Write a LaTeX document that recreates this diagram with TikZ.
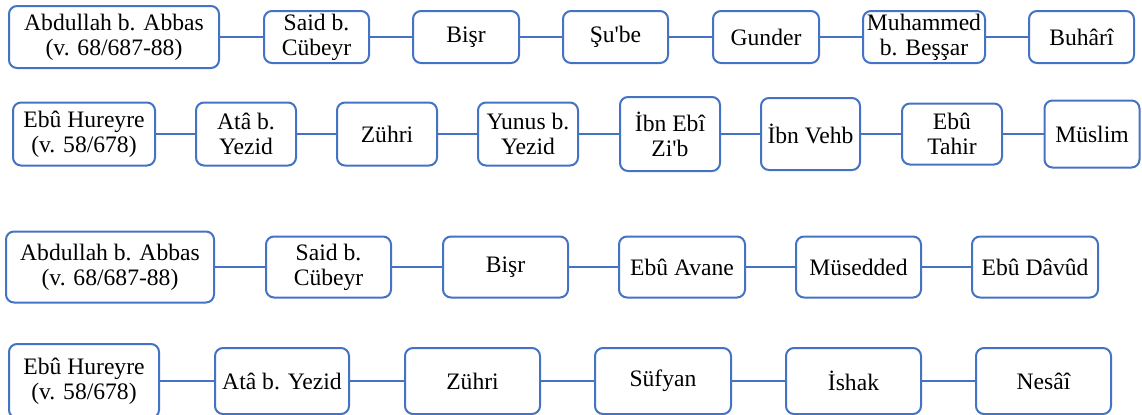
\documentclass[tikz,border=0pt]{standalone}
\usepackage{fontspec}
\setmainfont{Liberation Serif}
\usepackage{xcolor}
\usepackage{tikz}
\definecolor{isnad}{RGB}{68,114,196}

\begin{document}
\begin{tikzpicture}[
  x=0.5pt, y=-0.5pt,
  font=\rmfamily\fontsize{11.8}{12.5}\selectfont,
  kisi/.style 2 args={rectangle, rounded corners=4pt, draw=isnad, line width=1pt,
    fill=white, align=center, inner sep=0pt, minimum width=#1, minimum height=#2},
  bag/.style={draw=isnad, line width=1pt}
]
\useasboundingbox (0,0) rectangle (1142,414);

% first chain (Buhari)
\node[kisi={105pt}{31pt}] (abbasA) at (114,37) {Abdullah b. Abbas\\(v. 68/687-88)};
\node[kisi={52.5pt}{26pt}] (saidA) at (316.5,37) {Said b.\\Cübeyr};
\node[kisi={53pt}{26pt}] (bisrA) at (466,37) {Bişr};
\node[kisi={52.5pt}{26pt}] (sube) at (615.5,37) {Şu\textquotesingle be};
\node[kisi={53pt}{26pt}] (gunder) at (766,37) {Gunder};
\node[kisi={61pt}{26pt}] (bessar) at (924,37) {Muhammed\\b. Beşşar};
\node[kisi={52.5pt}{26pt}] (buhari) at (1081.5,37) {Buhârî};

% second chain (Muslim)
\node[kisi={71pt}{31.5pt}] (hureyreA) at (84,134) {Ebû Hureyre\\(v. 58/678)};
\node[kisi={50pt}{31.5pt}] (ataA) at (246,134) {Atâ b.\\Yezid};
\node[kisi={50pt}{31.5pt}] (zuhriA) at (387,134) {Zühri};
\node[kisi={50pt}{31.5pt}] (yunus) at (528,134) {Yunus b.\\Yezid};
\node[kisi={50pt}{37pt}] (zib) at (670,134) {İbn Ebî\\Zi\textquotesingle b};
\node[kisi={49.5pt}{36pt}] (vehb) at (810.5,134) {İbn Vehb};
\node[kisi={50pt}{30.5pt}] (tahir) at (952,134) {Ebû\\Tahir};
\node[kisi={47.5pt}{33.5pt}] (muslim) at (1092,134) {Müslim};

% third chain (Ebu Davud)
\node[kisi={104pt}{35.5pt}] (abbasB) at (110,267) {Abdullah b. Abbas\\(v. 68/687-88)};
\node[kisi={62.5pt}{30.5pt}] (saidB) at (328.5,267) {Said b.\\Cübeyr};
\node[kisi={62.5pt}{30.5pt}] (bisrB) at (505.5,267) {Bişr};
\node[kisi={63pt}{30.5pt}] (avane) at (682,267) {Ebû Avane};
\node[kisi={62.5pt}{30.5pt}] (musedded) at (858.5,267) {Müsedded};
\node[kisi={63pt}{30.5pt}] (davud) at (1035,267) {Ebû Dâvûd};

% fourth chain (Nesai)
\node[kisi={75pt}{37pt}] (hureyreB) at (84,381) {Ebû Hureyre\\(v. 58/678)};
\node[kisi={67pt}{33pt}] (ataB) at (282,381) {Atâ b. Yezid};
\node[kisi={67.5pt}{33pt}] (zuhriB) at (472.5,381) {Zühri};
\node[kisi={68pt}{33pt}] (sufyan) at (663,381) {Süfyan};
\node[kisi={67.5pt}{33pt}] (ishak) at (853.5,381) {İshak};
\node[kisi={67.5pt}{33pt}] (nesai) at (1043.5,381) {Nesâî};

\draw[bag] (abbasA) -- (saidA);
\draw[bag] (saidA) -- (bisrA);
\draw[bag] (bisrA) -- (sube);
\draw[bag] (sube) -- (gunder);
\draw[bag] (gunder) -- (bessar);
\draw[bag] (bessar) -- (buhari);

\draw[bag] (hureyreA) -- (ataA);
\draw[bag] (ataA) -- (zuhriA);
\draw[bag] (zuhriA) -- (yunus);
\draw[bag] (yunus) -- (zib);
\draw[bag] (zib) -- (vehb);
\draw[bag] (vehb) -- (tahir);
\draw[bag] (tahir) -- (muslim);

\draw[bag] (abbasB) -- (saidB);
\draw[bag] (saidB) -- (bisrB);
\draw[bag] (bisrB) -- (avane);
\draw[bag] (avane) -- (musedded);
\draw[bag] (musedded) -- (davud);

\draw[bag] (hureyreB) -- (ataB);
\draw[bag] (ataB) -- (zuhriB);
\draw[bag] (zuhriB) -- (sufyan);
\draw[bag] (sufyan) -- (ishak);
\draw[bag] (ishak) -- (nesai);

\end{tikzpicture}
\end{document}
